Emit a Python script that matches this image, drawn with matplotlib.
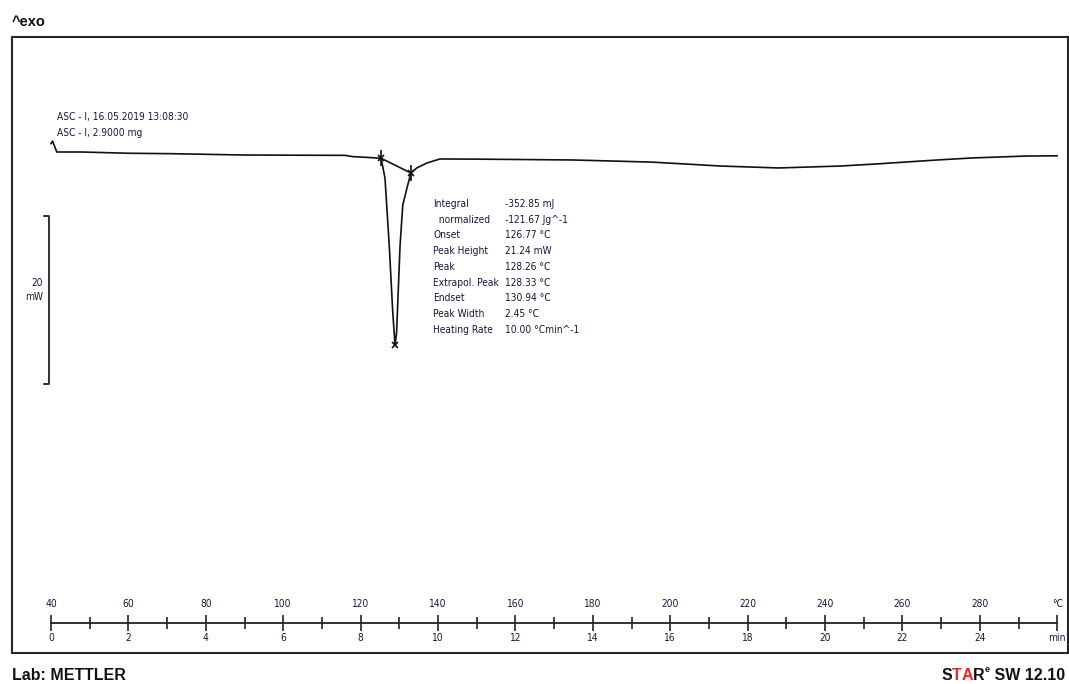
import numpy as np
import matplotlib.pyplot as plt
from matplotlib import font_manager

W, H = 1069, 684

cond = [f for f in font_manager.fontManager.ttflist
        if f.name == 'DejaVu Sans' and 'condensed' in str(f.stretch).lower()
        or (f.name == 'DejaVu Sans' and 'Condensed' in f.fname)]
if cond:
    plt.rcParams['font.family'] = ['DejaVu Sans']
    plt.rcParams['font.stretch'] = 'condensed'
    small = 7.3
else:
    plt.rcParams['font.family'] = ['Liberation Sans', 'DejaVu Sans']
    small = 7.5

# DSC curve: reference temperature (°C) vs heat flow (mW, exo up)
temp = [40.0, 40.4, 41.5, 48, 60, 71, 90, 116, 118, 122, 125.3,
        126.3, 127.4, 128.3, 128.9, 129.3, 130.2, 130.9, 132.2, 133.0,
        134.5, 137.2, 140.5, 150, 175, 195, 204, 213, 228, 244, 253,
        261, 269, 278, 292, 300]
heat_flow = [1.0, 1.3, 0.0, 0.0, -0.15, -0.2, -0.36, -0.4, -0.55, -0.65, -0.75,
             -3.1, -11.1, -19.0, -23.0, -21.5, -11.1, -6.3, -3.9, -2.5,
             -1.9, -1.3, -0.83, -0.85, -0.95, -1.2, -1.43, -1.67, -1.9, -1.67, -1.43,
             -1.19, -0.95, -0.71, -0.48, -0.45]

onset_pt = (125.3, -0.75)
endset_pt = (133.0, -2.5)
peak_pt = (128.9, -23.0)

header = ["ASC - I, 16.05.2019 13:08:30", "ASC - I, 2.9000 mg"]
result_labels = ["Integral", "  normalized", "Onset", "Peak Height", "Peak",
                 "Extrapol. Peak", "Endset", "Peak Width", "Heating Rate"]
result_values = ["-352.85 mJ", "-121.67 Jg^-1", "126.77 °C", "21.24 mW", "128.26 °C",
                 "128.33 °C", "130.94 °C", "2.45 °C", "10.00 °Cmin^-1"]

temp_ticks = list(range(40, 301, 20))
minor_ticks = list(range(50, 300, 20))
heating_rate = 10.0  # °C/min
scale_mw = 20

txt = '#15153a'


def fx(px):
    return px / W


def fy(py):
    return 1 - py / H


fig = plt.figure(figsize=(W / 100, H / 100), dpi=100)

px_per_deg = 77.4 / 20
px_per_mw = 8.4
ax = fig.add_axes([fx(12), fy(653), fx(1068) - fx(12), fy(37) - fy(653)])
ax.set_xlim(40 - 39 / px_per_deg, 40 + 1017 / px_per_deg)
ax.set_ylim((152 - 653) / px_per_mw, (152 - 37) / px_per_mw)
ax.set_xticks([])
ax.set_yticks([])
for s in ax.spines.values():
    s.set_color('#262626')
    s.set_linewidth(1.5)

ax.plot(temp, heat_flow, color='#111111', lw=1.2)
ax.plot([onset_pt[0], endset_pt[0]], [onset_pt[1], endset_pt[1]], color='#111111', lw=1.2)
ax.plot([onset_pt[0], endset_pt[0], peak_pt[0]], [onset_pt[1], endset_pt[1], peak_pt[1]],
        'x', color='#111111', ms=5, mew=1.2)
ax.plot([onset_pt[0], endset_pt[0]], [onset_pt[1], endset_pt[1]],
        '|', color='#111111', ms=12, mew=1.2)

# scale bar 20 mW
sb_x = 40 - 2 / px_per_deg
sb_top = (152 - 216) / px_per_mw
serif = 5 / px_per_deg
ax.plot([sb_x - serif, sb_x, sb_x, sb_x - serif],
        [sb_top, sb_top, sb_top - scale_mw, sb_top - scale_mw], color='#222222', lw=1.3)
fig.text(fx(43), fy(290), f"{scale_mw}\nmW", ha='right', va='center', fontsize=small,
         color=txt, linespacing=1.6)

# header and results
for i, s in enumerate(header):
    fig.text(fx(57), fy(117 + 16 * i), s, ha='left', va='center', fontsize=small, color=txt)
for i, (lab, val) in enumerate(zip(result_labels, result_values)):
    y = fy(204 + 15.7 * i)
    fig.text(fx(433), y, lab, ha='left', va='center', fontsize=small, color=txt)
    fig.text(fx(505), y, val, ha='left', va='center', fontsize=small, color=txt)

# time / temperature axis
axt = fig.add_axes([fx(12), fy(623), fx(1068) - fx(12), 1e-4])
axt.set_xlim(ax.get_xlim())
axt.patch.set_visible(False)
for k in ['top', 'left', 'right']:
    axt.spines[k].set_visible(False)
axt.spines['bottom'].set_bounds(40, 300)
axt.spines['bottom'].set_linewidth(1.3)
axt.spines['bottom'].set_color('#222222')
axt.set_yticks([])
min_labels = [f"{(t - 40) / heating_rate:.0f}" for t in temp_ticks[:-1]] + ['min']
axt.set_xticks(temp_ticks, labels=min_labels)
axt.set_xticks(minor_ticks, minor=True)
axt.tick_params(axis='x', which='major', direction='inout', length=11, width=1.2,
                pad=2, labelsize=small, colors='#222222', labelcolor=txt)
axt.tick_params(axis='x', which='minor', direction='inout', length=8, width=1.2,
                colors='#222222')
sec = axt.secondary_xaxis('top')
sec.set_xticks(temp_ticks, labels=[str(t) for t in temp_ticks[:-1]] + ['°C'])
sec.tick_params(length=0, pad=10, labelsize=small, labelcolor=txt)
sec.spines['top'].set_visible(False)

# footer
bold = dict(fontweight='bold', family=['Liberation Sans', 'DejaVu Sans'], fontstretch='normal')
fig.text(fx(12), fy(22), "^exo", ha='left', va='center', fontsize=10.5,
         color='#111111', **bold)
fig.text(fx(12), fy(675), "Lab: METTLER", ha='left', va='center', fontsize=11.5,
         color='#111111', **bold)

fig.canvas.draw()
r = fig.canvas.get_renderer()
x_right = 1065
logo = [(" SW 12.10", '#111111', 11.5, 0), ("e", '#111111', 6.5, 5),
        ("R", '#111111', 11.5, 0), ("A", '#e8262b', 11.5, 0),
        ("T", '#e8262b', 11.5, 0), ("S", '#111111', 11.5, 0)]
for s, c, size, rise in logo:
    t = fig.text(x_right / W, fy(675 - rise), s, ha='right', va='center', fontsize=size,
                 color=c, **bold)
    bb = t.get_window_extent(r)
    x_right = bb.x0

fig.savefig('out.png', dpi=100)
